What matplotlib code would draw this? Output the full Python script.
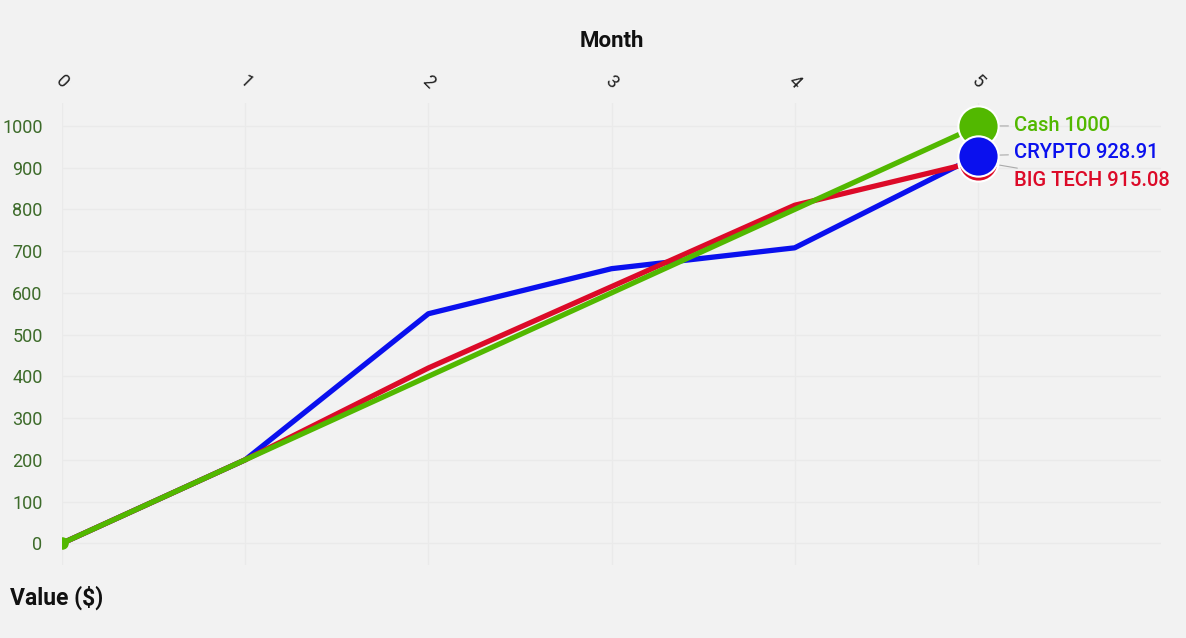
import matplotlib
matplotlib.use('Agg')
from matplotlib import pyplot as plt

months = [0, 1, 2, 3, 4, 5]
cash = [0, 200, 400, 600, 800, 1000]
crypto = [0, 200, 550, 658, 708, 928.91]
bigtech = [0, 200, 420, 615, 810, 915.08]

labels_txt = ['Cash 1000', 'CRYPTO 928.91', 'BIG TECH 915.08']
colors = ['#52b800', '#0a10ee', '#dc0a28']

plt.rcParams['font.family'] = ['Roboto', 'DejaVu Sans']

fig = plt.figure(figsize=(11.86, 6.38), dpi=100, facecolor='#f2f2f2')
ax = fig.add_axes([62/1186, (638-565)/638, (1161-62)/1186, (565-103)/638])
ax.set_facecolor('#f2f2f2')

# lines: blue under, red, green on top
ax.plot(months, crypto, color=colors[1], lw=3.8, zorder=3, solid_capstyle='round')
ax.plot(months, bigtech, color=colors[2], lw=3.8, zorder=4, solid_capstyle='round')
ax.plot(months, cash, color=colors[0], lw=3.8, zorder=5, solid_capstyle='round')

# start dot
ax.plot(months[0], cash[0], 'o', color=colors[0], ms=8, zorder=6)

# end circles
ax.plot(months[-1], bigtech[-1], 'o', color=colors[2], ms=29, mec='white', mew=1.5, zorder=7)
ax.plot(months[-1], cash[-1], 'o', color=colors[0], ms=29, mec='white', mew=1.5, zorder=8)
ax.plot(months[-1], crypto[-1], 'o', color=colors[1], ms=29, mec='white', mew=1.5, zorder=9)

# end labels, pushed apart so they don't overlap
ends = [cash[-1], crypto[-1], bigtech[-1]]
label_px = [126, 153, 181]
for txt, c, v, ypx in zip(labels_txt, colors, ends, label_px):
    vpx = 544 - v * 0.418
    ax.annotate(txt, xy=(months[-1], v), xytext=(26, (vpx - ypx) * 0.72),
                textcoords='offset points', color=c, fontsize=14.5, fontweight='medium',
                va='center', ha='left', zorder=10,
                arrowprops=dict(arrowstyle='-', color='#aaaaaa', lw=0.8,
                                shrinkA=2, shrinkB=16))

ax.set_xlim(0, 6)
ax.set_ylim(-52, 1055)
ax.set_xticks(months)
ax.set_yticks(range(0, 1001, 100))
ax.xaxis.tick_top()
ax.xaxis.set_label_position('top')
ax.set_xlabel('Month', fontsize=16, fontweight='bold', labelpad=18, color='#111111')
ax.tick_params(axis='x', labelsize=13, rotation=-45, length=0, pad=8, colors='#222222')
for lbl in ax.get_xticklabels():
    lbl.set_ha('center')
ax.tick_params(axis='y', labelsize=13, length=0, pad=14, colors='#3d6b2a')

ax.grid(True, color='#eaeaea', lw=0.9)
ax.set_axisbelow(True)
for s in ax.spines.values():
    s.set_visible(False)

fig.text(10/1186, 1 - 598/638, 'Value ($)', fontsize=16.5, fontweight='bold',
         va='center', ha='left', color='#111111')

fig.savefig('out.png', dpi=100, facecolor=fig.get_facecolor())
